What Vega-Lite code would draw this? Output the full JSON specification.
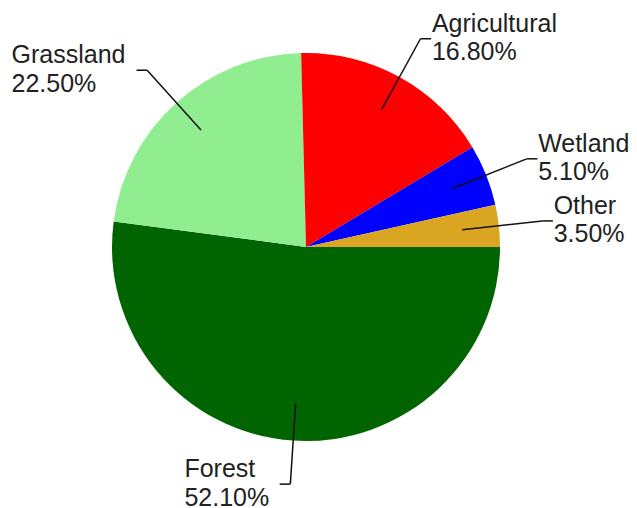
{
  "$schema": "https://vega.github.io/schema/vega-lite/v6.json",
  "width": 637,
  "height": 508,
  "padding": 0,
  "autosize": {"type": "none"},
  "background": "white",
  "config": {"view": {"stroke": null}},
  "data": {
    "values": [
      {"category": "Forest", "value": 52.1},
      {"category": "Grassland", "value": 22.5},
      {"category": "Agricultural", "value": 16.8},
      {"category": "Wetland", "value": 5.1},
      {"category": "Other", "value": 3.5}
    ]
  },
  "transform": [
    {"window": [{"op": "sum", "field": "value", "as": "cum"}], "frame": [null, 0]},
    {"joinaggregate": [{"op": "sum", "field": "value", "as": "total"}]},
    {"calculate": "datum.cum - datum.value", "as": "start"},
    {"calculate": "PI/2 + 2*PI*(datum.cum - datum.value/2)/datum.total", "as": "ang"},
    {"calculate": "sin(datum.ang)", "as": "ux"},
    {"calculate": "cos(datum.ang)", "as": "uy"},
    {"calculate": "0.81*datum.ux", "as": "x0"},
    {"calculate": "0.81*datum.uy", "as": "y0"},
    {"calculate": "1.225*datum.ux", "as": "x1"},
    {"calculate": "1.225*datum.uy", "as": "y1"},
    {"calculate": "datum.ux < 0 ? -1 : 1", "as": "sx"},
    {"calculate": "datum.x1 + datum.sx*0.055", "as": "x2"},
    {"calculate": "format(datum.value, '.2f') + '%'", "as": "pct"},
    {"calculate": "datum.category + '\\n' + datum.pct", "as": "lbl"},
    {"calculate": "max(length(datum.category)*12.7, length(datum.pct)*14.1)/194", "as": "w"},
    {"calculate": "datum.sx > 0 ? datum.x2 + 0.004 : datum.x2 - 0.055 - datum.w", "as": "lx"}
  ],
  "layer": [
    {
      "mark": {"type": "arc", "outerRadius": 194, "stroke": null},
      "encoding": {
        "x": {"datum": 0, "type": "quantitative", "scale": {"domain": [-1.57732, 1.70619], "nice": false, "zero": false}, "axis": null},
        "y": {"datum": 0, "type": "quantitative", "scale": {"domain": [-1.34536, 1.2732], "nice": false, "zero": false}, "axis": null},
        "theta": {"field": "start", "type": "quantitative", "scale": {"domain": [0, 100], "range": [1.5707963, 7.8539816]}},
        "theta2": {"field": "cum"},
        "color": {
          "field": "category",
          "type": "nominal",
          "scale": {
            "domain": ["Forest", "Grassland", "Agricultural", "Wetland", "Other"],
            "range": ["#006400", "#90EE90", "#FF0000", "#0000FF", "#DAA520"]
          },
          "legend": null
        }
      }
    },
    {
      "mark": {"type": "rule", "color": "#111", "strokeWidth": 1.5},
      "encoding": {
        "x": {"field": "x0", "type": "quantitative"},
        "y": {"field": "y0", "type": "quantitative"},
        "x2": {"field": "x1"},
        "y2": {"field": "y1"}
      }
    },
    {
      "mark": {"type": "rule", "color": "#111", "strokeWidth": 1.5},
      "encoding": {
        "x": {"field": "x1", "type": "quantitative"},
        "y": {"field": "y1", "type": "quantitative"},
        "x2": {"field": "x2"},
        "y2": {"field": "y1"}
      }
    },
    {
      "mark": {"type": "text", "font": "Liberation Sans", "fontSize": 25, "color": "#222", "align": "left", "baseline": "alphabetic", "dy": -7, "lineHeight": 28.5, "lineBreak": "\n"},
      "encoding": {
        "x": {"field": "lx", "type": "quantitative"},
        "y": {"field": "y1", "type": "quantitative"},
        "text": {"field": "lbl", "type": "nominal"}
      }
    }
  ]
}
